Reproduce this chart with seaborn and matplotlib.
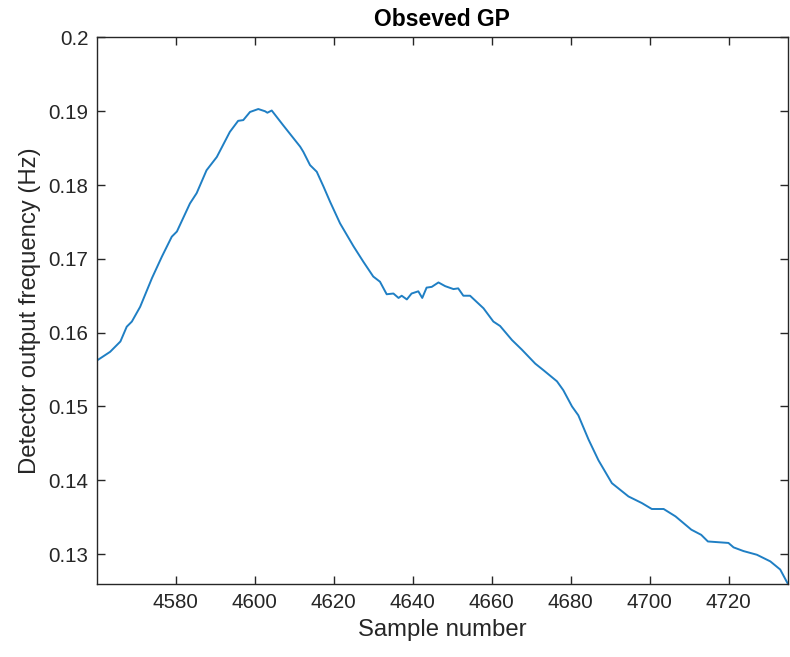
import matplotlib
matplotlib.use("Agg")
import matplotlib.pyplot as plt
import seaborn as sns
import pandas as pd
from matplotlib.ticker import FuncFormatter

sample = [4560.0, 4563.4, 4566.0, 4567.6, 4568.9, 4571.0, 4574.0, 4576.5, 4579.0, 4580.3,
          4583.6, 4585.3, 4587.8, 4590.4, 4593.7, 4595.8, 4597.1, 4598.8, 4600.9, 4602.6,
          4603.2, 4604.3, 4607.2, 4611.5, 4612.3, 4614.0, 4615.7, 4617.4, 4619.1, 4621.6,
          4625.0, 4627.5, 4630.0, 4631.7, 4633.4, 4635.1, 4636.4, 4637.2, 4638.5, 4639.7,
          4641.4, 4642.4, 4643.5, 4644.8, 4646.5, 4648.2, 4650.3, 4651.5, 4652.8, 4654.5,
          4657.9, 4660.4, 4662.1, 4665.1, 4667.6, 4671.0, 4673.1, 4676.5, 4678.1, 4680.3,
          4681.9, 4684.5, 4687.0, 4690.4, 4694.6, 4698.0, 4700.5, 4703.5, 4706.5, 4710.5,
          4713.0, 4714.7, 4719.9, 4721.2, 4723.7, 4727.1, 4730.5, 4733.0, 4735.0]
frequency = [0.1562, 0.1574, 0.1588, 0.1608, 0.1615, 0.1635, 0.1674, 0.1703, 0.1730, 0.1737,
             0.1775, 0.1789, 0.1820, 0.1838, 0.1872, 0.1887, 0.1888, 0.1899, 0.1903, 0.1900,
             0.1898, 0.1901, 0.1881, 0.1852, 0.1845, 0.1827, 0.1818, 0.1798, 0.1777, 0.1748,
             0.1717, 0.1696, 0.1676, 0.1669, 0.1652, 0.1653, 0.1647, 0.1650, 0.1645, 0.1653,
             0.1656, 0.1647, 0.1661, 0.1662, 0.1668, 0.1663, 0.1659, 0.1660, 0.1650, 0.1650,
             0.1633, 0.1615, 0.1609, 0.1590, 0.1577, 0.1558, 0.1549, 0.1534, 0.1522, 0.1500,
             0.1488, 0.1455, 0.1427, 0.1396, 0.1378, 0.1369, 0.1361, 0.1361, 0.1351, 0.1333,
             0.1326, 0.1317, 0.1315, 0.1309, 0.1304, 0.1299, 0.1290, 0.1279, 0.1259]

x_ticks = [4580, 4600, 4620, 4640, 4660, 4680, 4700, 4720]
y_ticks = [0.13, 0.14, 0.15, 0.16, 0.17, 0.18, 0.19, 0.2]

title = "Obseved GP"
xlabel = "Sample number"
ylabel = "Detector output frequency (Hz)"

sns.set_theme(style="white")
plt.rcParams['font.family'] = ['Liberation Sans', 'DejaVu Sans']
txt = "#262626"

df = pd.DataFrame({"sample": sample, "freq": frequency})

fig = plt.figure(figsize=(7.9, 6.57), dpi=100)
ax = fig.add_axes([0.1224, 0.1107, 0.8752, 0.8323])
sns.lineplot(data=df, x="sample", y="freq", ax=ax, color="#1F7FC4", linewidth=1.4)

ax.set_xlim(4560, 4735)
ax.set_ylim(0.1259, 0.2)
ax.set_xticks(x_ticks)
ax.set_yticks(y_ticks)
ax.yaxis.set_major_formatter(FuncFormatter(lambda v, p: f"{v:g}"))

for s in ax.spines.values():
    s.set_visible(True)
    s.set_color(txt)
    s.set_linewidth(1.0)

ax.tick_params(direction="in", length=6, width=1.0, color=txt, labelcolor=txt,
               labelsize=14.8, top=True, right=True, bottom=True, left=True, pad=6)

ax.set_xlabel(xlabel, fontsize=17.2, color=txt, labelpad=5)
ax.set_ylabel(ylabel, fontsize=17.2, color=txt, labelpad=5)
ax.set_title(title, fontsize=16.5, fontweight="bold", color="black", pad=8)

fig.savefig("out.png", dpi=100)
